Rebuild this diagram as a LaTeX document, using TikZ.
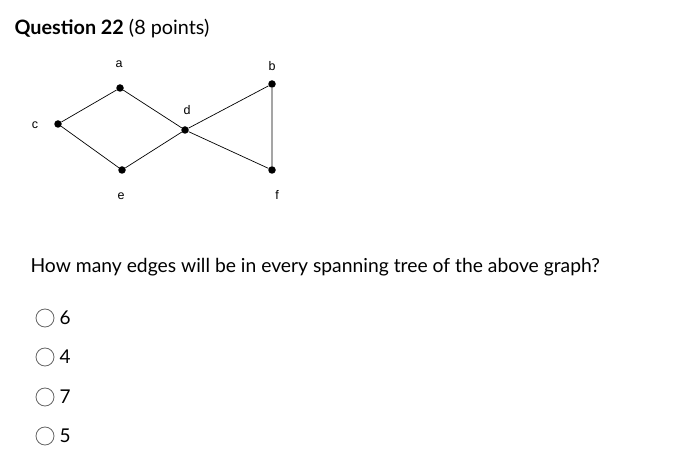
\documentclass[tikz,border=0pt]{standalone}
\usepackage{fontspec}
\setmainfont{Lato}
\newfontfamily\arial{Liberation Sans}
\begin{document}
\begin{tikzpicture}[x=1pt,y=-1pt,
  vtx/.style={circle,fill=black,inner sep=0pt,minimum size=7.5pt},
  lbl/.style={font=\arial\fontsize{12.5}{14}\selectfont},
  edge/.style={draw=black,line width=0.7pt},
  radio/.style={circle,draw=black!60,line width=0.8pt,minimum size=18pt,inner sep=0pt},
  opt/.style={anchor=west,font=\fontsize{19}{22}\selectfont}]
\useasboundingbox (0,0) rectangle (688,470);
\node[anchor=west,font=\fontsize{19.8}{24}\selectfont] (t) at (11,29) {\textbf{Question 22} (8 points)};
\node[vtx] (a) at (120,88) {};
\node[vtx] (c) at (58,124) {};
\node[vtx] (e) at (122,170) {};
\node[vtx] (d) at (185,130) {};
\node[vtx] (b) at (272,84) {};
\node[vtx] (f) at (272,170) {};
\node[lbl] (la) at (119,64) {a};
\node[lbl] (lc) at (35,125) {c};
\node[lbl] (le) at (121,196) {e};
\node[lbl] (ld) at (187,110) {d};
\node[lbl] (lb) at (272,66) {b};
\node[lbl] (lf) at (277,195) {f};
\draw[edge] (c) -- (a) -- (d) -- (e) -- (c);
\draw[edge] (d) -- (b) -- (f) -- (d);
\node[anchor=west,font=\fontsize{19.3}{23}\selectfont] (q) at (27,267) {How many edges will be in every spanning tree of the above graph?};
\node[radio] (r1) at (45,318) {};
\node[radio] (r2) at (45,357) {};
\node[radio] (r3) at (45,397) {};
\node[radio] (r4) at (45,436) {};
\node[opt] (o1) at (56,318) {6};
\node[opt] (o2) at (56,357) {4};
\node[opt] (o3) at (56,397) {7};
\node[opt] (o4) at (56,436) {5};
\end{tikzpicture}
\end{document}
